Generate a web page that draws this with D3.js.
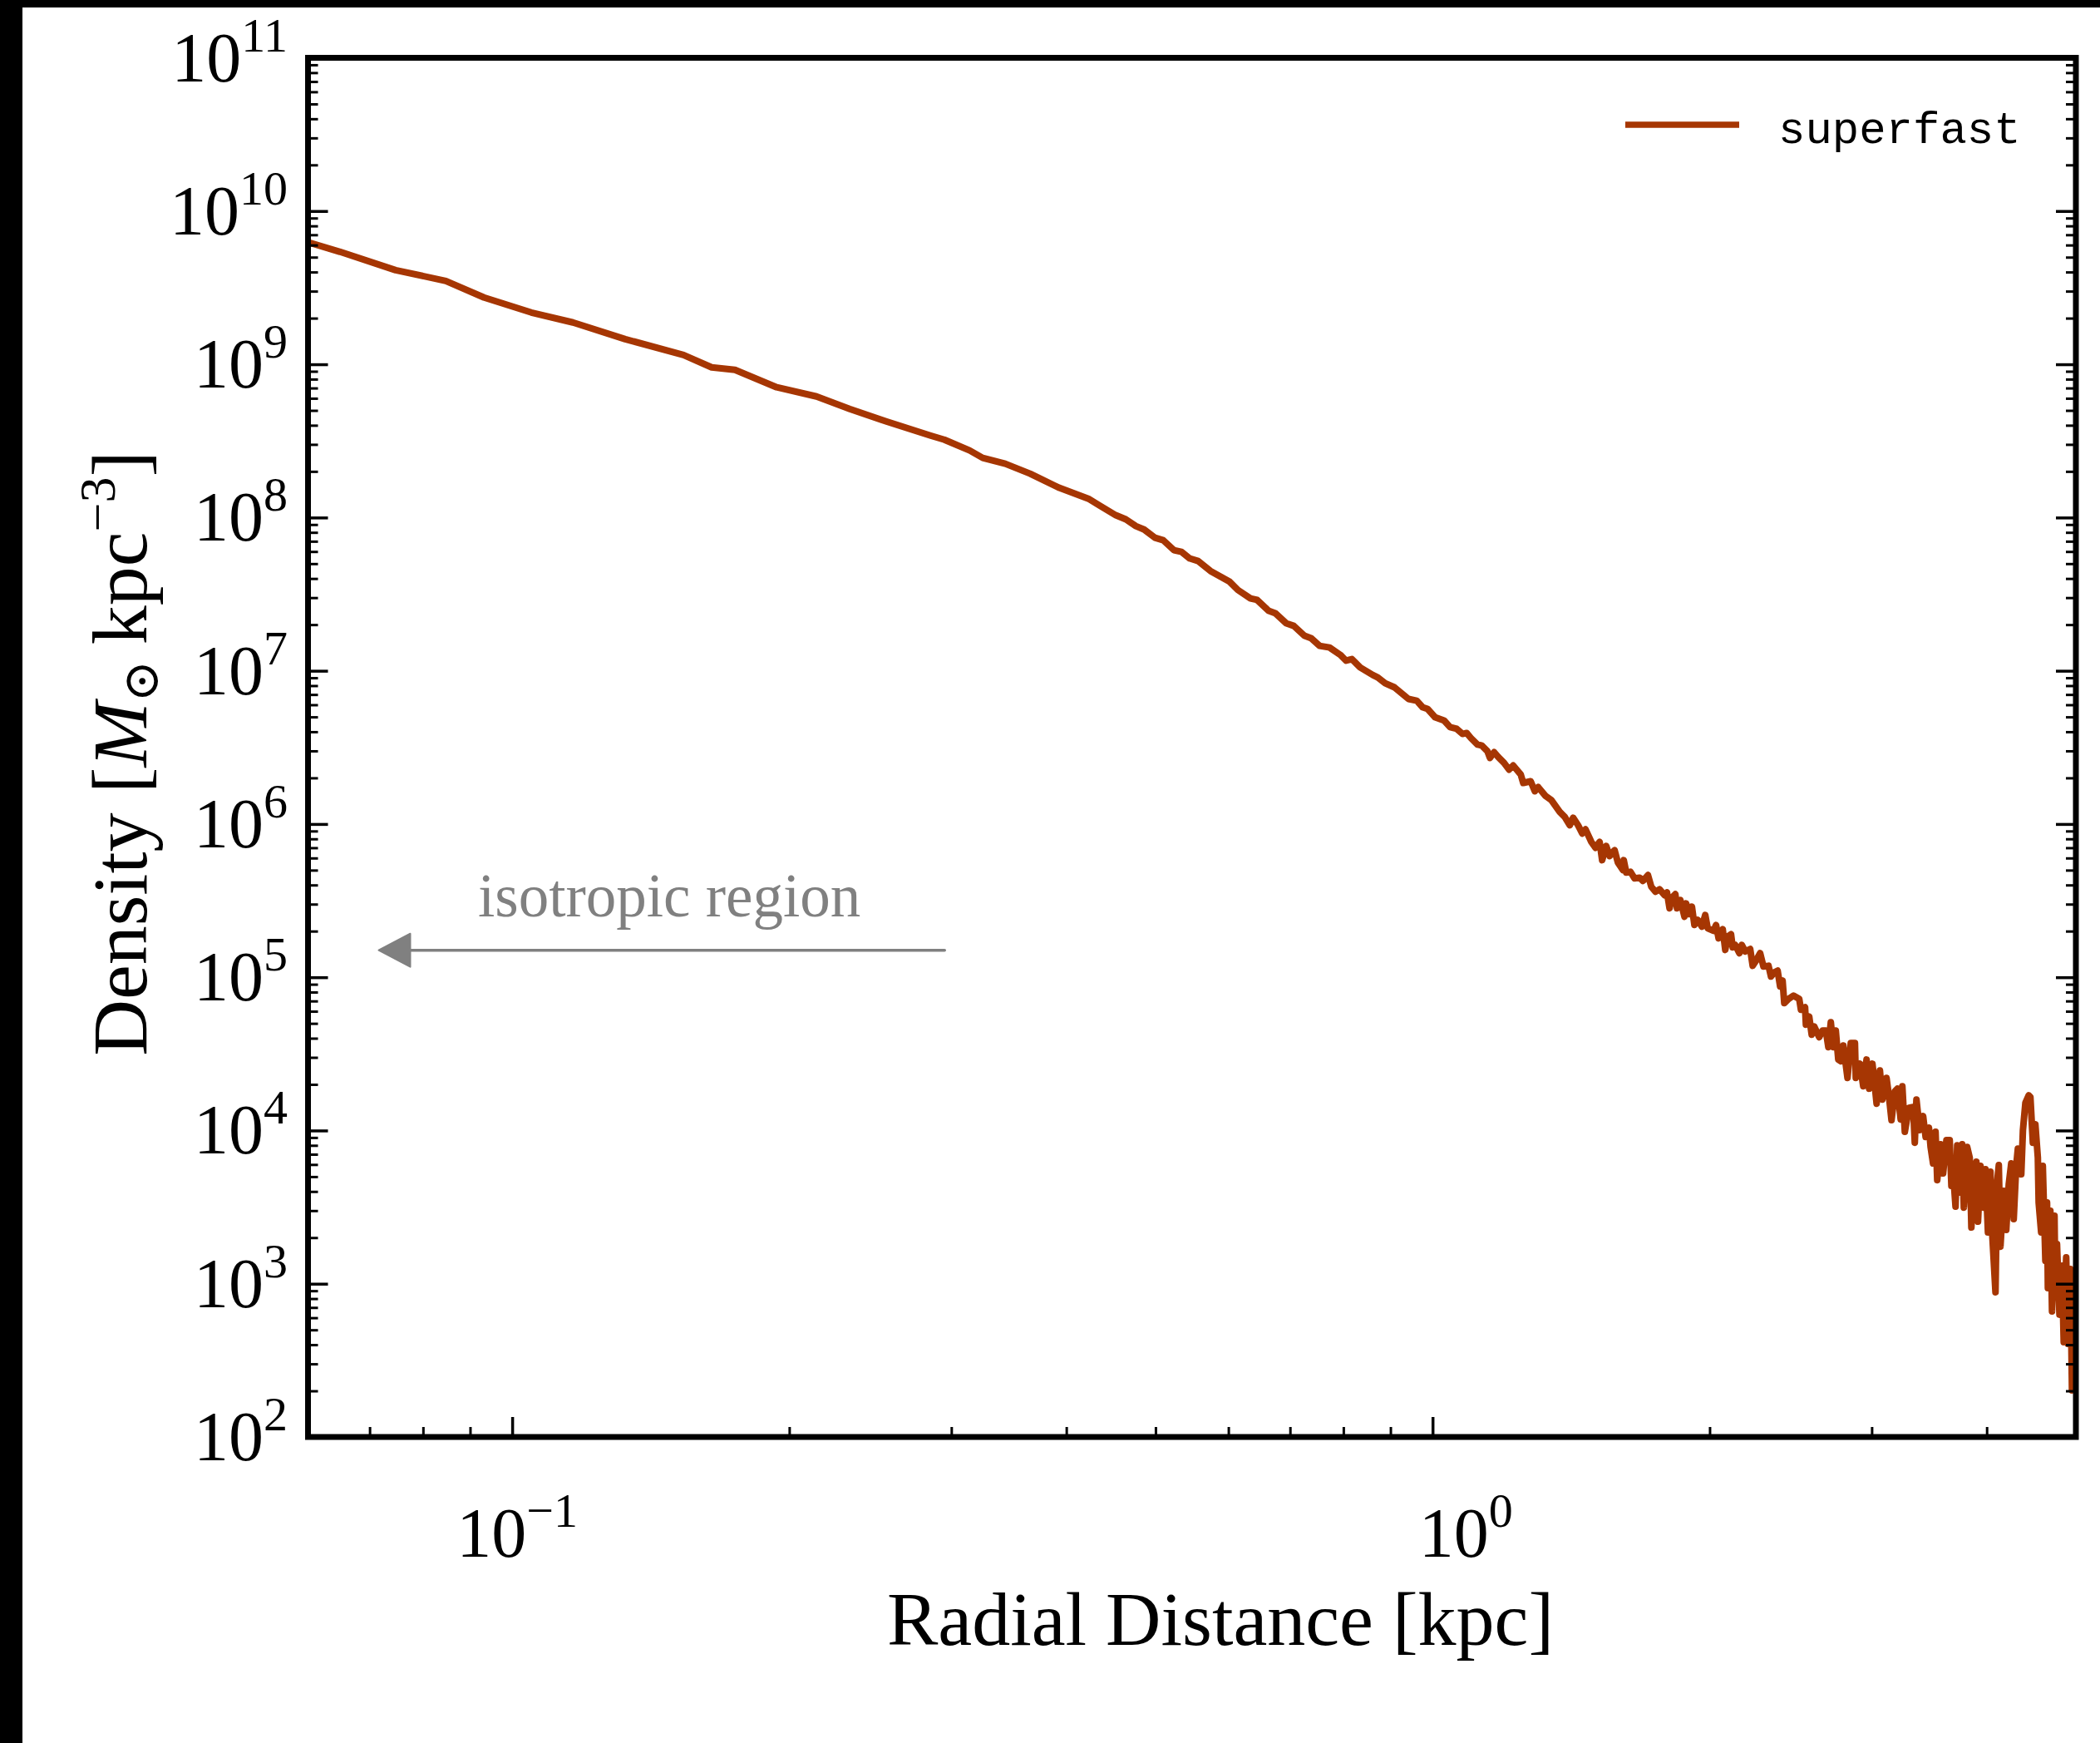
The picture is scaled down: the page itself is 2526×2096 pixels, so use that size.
<!DOCTYPE html>
<html>
<head>
<meta charset="utf-8">
<script src="https://cdn.jsdelivr.net/npm/d3@7"></script>
<style>
  html, body { margin: 0; padding: 0; background: #ffffff; }
  svg { display: block; }
</style>
</head>
<body>
<script>
// Radial density profile of the "superfast" run.
// Radii in kpc, densities as log10(rho / [Msun kpc^-3]).
const radiusKpc = [
  0.0598, 0.0650, 0.0747, 0.0847, 0.0932, 0.1049, 0.1164, 0.1327, 0.1535, 0.1647,
  0.1746, 0.1938, 0.2141, 0.2326, 0.2549, 0.2847, 0.2948, 0.3140, 0.3245, 0.3433,
  0.3654, 0.3929, 0.4227, 0.4343, 0.4527, 0.4642, 0.4760, 0.4859, 0.4993, 0.5097,
  0.5237, 0.5336, 0.5447, 0.5562, 0.5738, 0.6019, 0.6145, 0.6341, 0.6447, 0.6637,
  0.6749, 0.6934, 0.7066, 0.7260, 0.7381, 0.7536, 0.7727, 0.7938, 0.8054, 0.8172,
  0.8344, 0.8609, 0.8718, 0.8882, 0.9089, 0.9415, 0.9612, 0.9754, 0.9876, 1.0062,
  1.0294, 1.0447, 1.0622, 1.0777, 1.0889, 1.1006, 1.1189, 1.1306, 1.1471, 1.1543,
  1.1664, 1.1786, 1.1958, 1.2108, 1.2234, 1.2468, 1.2546, 1.2782, 1.2915, 1.3023,
  1.3271, 1.3465, 1.3747, 1.3919, 1.4096, 1.4213, 1.4391, 1.4541, 1.4662, 1.4877,
  1.5031, 1.5189, 1.5284, 1.5443, 1.5572, 1.5767, 1.5898, 1.6100, 1.6133, 1.6234,
  1.6406, 1.6577, 1.6785, 1.6925, 1.7140, 1.7283, 1.7463, 1.7645, 1.7865, 1.7977,
  1.8091, 1.8205, 1.8356, 1.8432, 1.8586, 1.8779, 1.8857, 1.9014, 1.9133, 1.9252,
  1.9415, 1.9618, 1.9781, 1.9905, 2.0196, 2.0323, 2.0452, 2.0665, 2.0797, 2.0926,
  2.1100, 2.1188, 2.1320, 2.1544, 2.1677, 2.1862, 2.2136, 2.2274, 2.2459, 2.2693,
  2.2882, 2.3174, 2.3318, 2.3512, 2.3708, 2.3856, 2.4005, 2.4105, 2.4356, 2.4666,
  2.5027, 2.5131, 2.5393, 2.5446, 2.5657, 2.5817, 2.5979, 2.6309, 2.6528, 2.6749,
  2.6915, 2.7083, 2.7252, 2.7422, 2.7593, 2.7771, 2.7944, 2.8236, 2.8471, 2.8768,
  2.8828, 2.9128, 2.9371, 2.9615, 2.9807, 3.0055, 3.0243, 3.0369, 3.0622, 3.0813,
  3.1134, 3.1328, 3.1524, 3.1793, 3.1989, 3.2256, 3.2390, 3.2592, 3.2932, 3.3275,
  3.3414, 3.3552, 3.3832, 3.4119, 3.4332, 3.4618, 3.4761, 3.4978, 3.5196, 3.5343,
  3.5637, 3.5867, 3.6166, 3.6467, 3.6619, 3.6771, 3.7001, 3.7154, 3.7386, 3.7619,
  3.7776, 3.8091, 3.8336, 3.8496, 3.8736, 3.8978, 3.9140, 3.9384, 3.9712, 3.9877,
  4.0126, 4.0376, 4.0544, 4.0890, 4.1060, 4.1230, 4.1400, 4.1746, 4.2007, 4.2269,
  4.2533, 4.2798, 4.3065, 4.3244, 4.3614, 4.3795, 4.4068, 4.4435, 4.4620, 4.4898,
  4.5178, 4.5460, 4.5554, 4.5838, 4.6029, 4.6326, 4.6518, 4.6615, 4.6906, 4.7101,
  4.7395, 4.7493, 4.7691, 4.7988, 4.8288, 4.8500, 4.8802, 4.9004, 4.9310, 4.9515,
  4.9721, 5.0000
];

const log10Density = [
  9.799, 9.734, 9.614, 9.544, 9.436, 9.338, 9.273, 9.164, 9.061, 8.980,
  8.964, 8.850, 8.790, 8.709, 8.627, 8.535, 8.508, 8.438, 8.389, 8.351,
  8.286, 8.194, 8.123, 8.080, 8.015, 7.988, 7.944, 7.922, 7.868, 7.852,
  7.787, 7.776, 7.733, 7.716, 7.651, 7.581, 7.527, 7.472, 7.462, 7.391,
  7.375, 7.310, 7.293, 7.228, 7.212, 7.163, 7.152, 7.104, 7.066, 7.076,
  7.022, 6.973, 6.957, 6.919, 6.892, 6.816, 6.805, 6.762, 6.751, 6.697,
  6.675, 6.632, 6.621, 6.588, 6.594, 6.561, 6.518, 6.513, 6.475, 6.431,
  6.469, 6.437, 6.399, 6.355, 6.382, 6.323, 6.268, 6.279, 6.214, 6.241,
  6.182, 6.155, 6.079, 6.046, 5.992, 6.041, 5.992, 5.938, 5.965, 5.883,
  5.845, 5.883, 5.764, 5.856, 5.791, 5.829, 5.748, 5.699, 5.764, 5.683,
  5.688, 5.645, 5.650, 5.629, 5.667, 5.591, 5.558, 5.574, 5.536, 5.553,
  5.450, 5.520, 5.542, 5.450, 5.504, 5.395, 5.482, 5.412, 5.460, 5.341,
  5.374, 5.330, 5.406, 5.319, 5.303, 5.341, 5.254, 5.314, 5.178, 5.265,
  5.281, 5.195, 5.211, 5.157, 5.211, 5.168, 5.184, 5.075, 5.108, 5.157,
  5.070, 5.075, 5.005, 5.032, 5.043, 4.940, 4.978, 4.831, 4.858, 4.880,
  4.858, 4.788, 4.804, 4.690, 4.744, 4.625, 4.679, 4.609, 4.652, 4.652,
  4.544, 4.707, 4.544, 4.652, 4.463, 4.452, 4.555, 4.343, 4.571, 4.571,
  4.343, 4.436, 4.289, 4.463, 4.273, 4.436, 4.284, 4.175, 4.392, 4.202,
  4.343, 4.219, 4.067, 4.256, 4.273, 4.072, 4.289, 3.991, 4.148, 4.153,
  3.920, 4.202, 4.002, 4.094, 3.958, 4.018, 3.893, 3.785, 3.991, 3.676,
  3.910, 3.720, 3.937, 3.937, 3.638, 3.731, 3.503, 3.904, 3.595, 3.910,
  3.497, 3.893, 3.823, 3.367, 3.692, 3.796, 3.405, 3.769, 3.497, 3.747,
  3.335, 3.731, 3.340, 2.944, 3.665, 3.774, 3.242, 3.606, 3.351, 3.649,
  3.785, 3.422, 3.769, 3.882, 3.714, 4.002, 4.181, 4.229, 4.219, 3.920,
  4.040, 3.823, 3.530, 3.335, 3.769, 3.150, 3.530, 2.971, 3.476, 2.820,
  3.443, 2.987, 3.259, 2.798, 3.118, 2.619, 3.172, 2.608, 3.096, 2.304,
  2.630, 2.400
];

// Axis ranges and ticks
const radiusDomain = [0.06, 5];
const densityDomain = [1e2, 1e11];
const yMajorExponents = [2, 3, 4, 5, 6, 7, 8, 9, 10, 11];
const xMajorTicks = [0.1, 1];
const xMajorLabels = ["\u22121", "0"];
const xMinorTicks = [0.07, 0.08, 0.09, 0.2, 0.3, 0.4, 0.5, 0.6, 0.7, 0.8, 0.9, 2, 3, 4];

// Texts
const seriesName = "superfast";
const xTitle = "Radial Distance [kpc]";
const annotationText = "isotropic region";
// Annotation anchor points in data units (radius kpc, density)
const arrowTail = [0.295, 1.5e5];
const arrowHead = [0.0716, 1.5e5];
const annotationAt = [0.0918, 2.5e5];

const W = 2526, H = 2096;
const box = { left: 370.5, right: 2497, top: 69.5, bottom: 1728 };
const lineColor = "#a63603";
const serif = "'Liberation Serif', 'DejaVu Serif', serif";
const mono = "'Liberation Mono', 'DejaVu Sans Mono', monospace";

const svg = d3.select("body").append("svg")
  .attr("width", W).attr("height", H)
  .attr("viewBox", `0 0 ${W} ${H}`);

svg.append("rect").attr("width", W).attr("height", H).attr("fill", "#ffffff");
// dark edges of the canvas
svg.append("rect").attr("x", 0).attr("y", 0).attr("width", 27).attr("height", H).attr("fill", "#000");
svg.append("rect").attr("x", 0).attr("y", 0).attr("width", W).attr("height", 9).attr("fill", "#000");

const x = d3.scaleLog().domain(radiusDomain).range([box.left, box.right]);
const y = d3.scaleLog().domain(densityDomain).range([box.bottom, box.top]);

svg.append("defs").append("clipPath").attr("id", "plot-clip")
  .append("rect")
  .attr("x", box.left).attr("y", box.top)
  .attr("width", box.right - box.left).attr("height", box.bottom - box.top);

// profile line
const profile = radiusKpc.map((r, i) => ({ r, rho: Math.pow(10, log10Density[i]) }));
const line = d3.line().x(d => x(d.r)).y(d => y(d.rho));

svg.append("path")
  .datum(profile)
  .attr("clip-path", "url(#plot-clip)")
  .attr("fill", "none")
  .attr("stroke", lineColor)
  .attr("stroke-width", 8)
  .attr("stroke-linejoin", "round")
  .attr("stroke-linecap", "round")
  .attr("d", line);

// tick marks (inward) drawn with d3 axes
function ticks(axisFn, scale, values, size, width, tx, ty) {
  const g = svg.append("g")
    .attr("transform", `translate(${tx},${ty})`)
    .call(axisFn(scale).tickValues(values).tickSize(size).tickFormat(""));
  g.select(".domain").remove();
  g.selectAll(".tick line").attr("stroke", "#000").attr("stroke-width", width);
}

const yMajor = yMajorExponents.map(e => Math.pow(10, e));
const yMinor = [];
yMajorExponents.slice(0, -1).forEach(e => {
  for (let k = 2; k <= 9; k++) yMinor.push(k * Math.pow(10, e));
});

ticks(d3.axisLeft, y, yMajor, -24, 3.5, box.left, 0);
ticks(d3.axisLeft, y, yMinor, -12, 3, box.left, 0);
ticks(d3.axisRight, y, yMajor, -24, 3.5, box.right, 0);
ticks(d3.axisRight, y, yMinor, -12, 3, box.right, 0);
ticks(d3.axisBottom, x, xMajorTicks, -24, 3.5, 0, box.bottom);
ticks(d3.axisBottom, x, xMinorTicks, -12, 3, 0, box.bottom);

// frame
svg.append("rect")
  .attr("x", box.left).attr("y", box.top)
  .attr("width", box.right - box.left).attr("height", box.bottom - box.top)
  .attr("fill", "none").attr("stroke", "#000").attr("stroke-width", 7);

// y tick labels: 10^n
yMajorExponents.forEach(e => {
  const t = svg.append("text")
    .attr("x", 346).attr("y", y(Math.pow(10, e)) + 28)
    .attr("text-anchor", "end")
    .attr("font-family", serif).attr("font-size", 84).attr("fill", "#000")
    .text("10");
  t.append("tspan").attr("font-size", 58).attr("dy", -36).text(String(e));
});

// x tick labels (the 10^0 label sits a little right of its tick)
const xLabelShift = [6, 40];
xMajorTicks.forEach((v, i) => {
  const t = svg.append("text")
    .attr("x", x(v) + xLabelShift[i]).attr("y", 1872)
    .attr("text-anchor", "middle")
    .attr("font-family", serif).attr("font-size", 84).attr("fill", "#000")
    .text("10");
  t.append("tspan").attr("font-size", 58).attr("dy", -36).text(xMajorLabels[i]);
});

// axis titles
svg.append("text")
  .attr("x", 1468).attr("y", 1978)
  .attr("text-anchor", "middle")
  .attr("font-family", serif).attr("font-size", 92).attr("fill", "#000")
  .text(xTitle);

const yt = svg.append("text")
  .attr("transform", "translate(176,906) rotate(-90)")
  .attr("text-anchor", "middle")
  .attr("font-family", serif).attr("font-size", 94).attr("fill", "#000");
yt.append("tspan").text("Density [");
yt.append("tspan").attr("font-style", "italic").text("M");
yt.append("tspan").attr("font-size", 60).attr("dy", 14).text("\u2299");
yt.append("tspan").attr("dy", -14).text("\u2009kpc");
yt.append("tspan").attr("font-size", 62).attr("dy", -38).text("\u22123");
yt.append("tspan").attr("dy", 38).text("]");

// annotation: arrow + label
const ax0 = x(arrowTail[0]), ax1 = x(arrowHead[0]), ay = y(arrowTail[1]);
svg.append("line")
  .attr("x1", ax0).attr("y1", ay).attr("x2", ax1 + 30).attr("y2", ay)
  .attr("stroke", "#808080").attr("stroke-width", 3.5).attr("stroke-linecap", "round");
svg.append("path")
  .attr("d", `M${ax1},${ay} L${ax1 + 38},${ay - 20} L${ax1 + 38},${ay + 20} Z`)
  .attr("fill", "#808080").attr("stroke", "#808080").attr("stroke-width", 2)
  .attr("stroke-linejoin", "round");
svg.append("text")
  .attr("x", x(annotationAt[0])).attr("y", y(annotationAt[1]))
  .attr("font-family", serif).attr("font-size", 73).attr("fill", "#808080")
  .text(annotationText);

// legend
svg.append("line")
  .attr("x1", 1955).attr("x2", 2092).attr("y1", 150).attr("y2", 150)
  .attr("stroke", lineColor).attr("stroke-width", 7.5);
svg.append("text")
  .attr("x", 2139).attr("y", 172)
  .attr("font-family", mono).attr("font-size", 54).attr("fill", "#000")
  .text(seriesName);
</script>
</body>
</html>
